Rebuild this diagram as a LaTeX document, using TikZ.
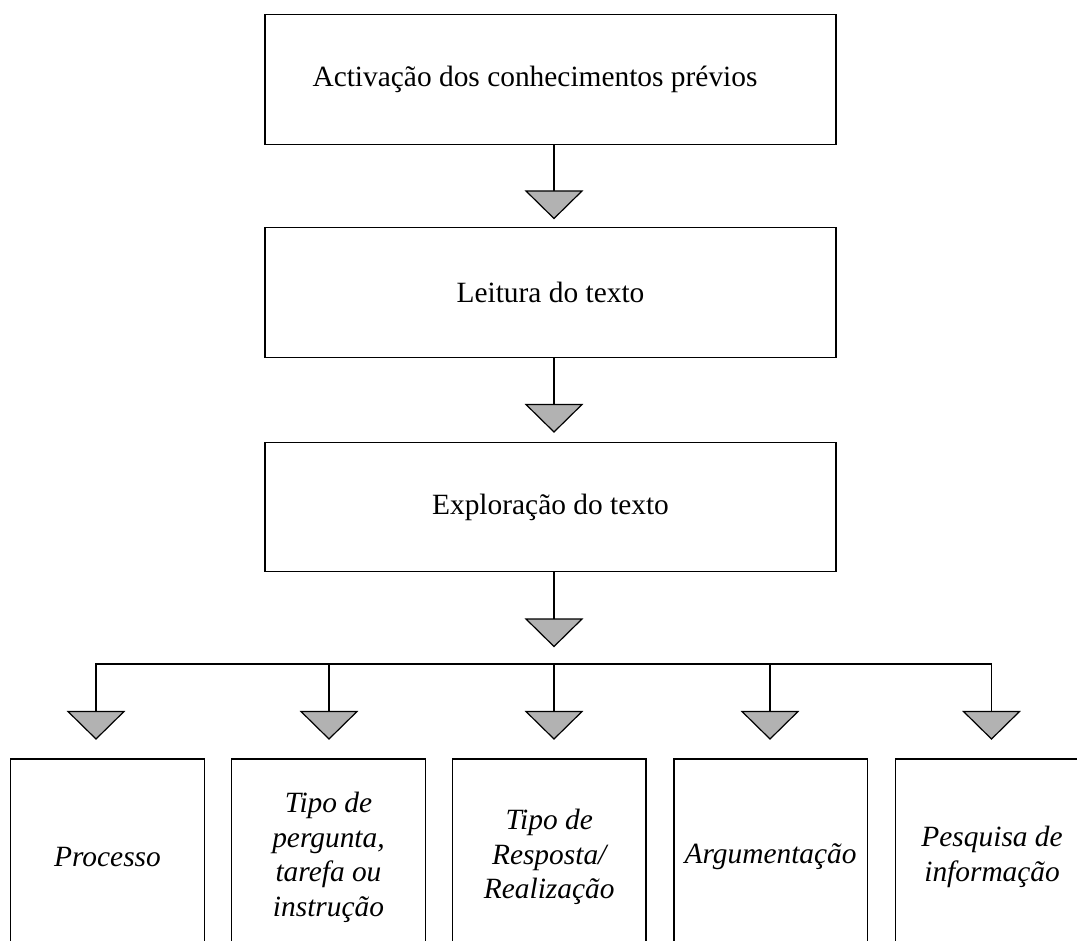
\documentclass[tikz,border=0pt]{standalone}
\usepackage{fontspec}
\setmainfont{Liberation Serif}
\usetikzlibrary{calc}
\definecolor{triGray}{RGB}{178,178,178}
\newcommand\downtri[1]{\draw[tri] ($(#1)+(-28,0)$) -- ($(#1)+(28,0)$) -- ($(#1)+(0,27.5)$) -- cycle;}
\begin{document}
\begin{tikzpicture}[x=1pt,y=-1pt,
  topbox/.style={draw=black, line width=1.4pt, minimum width=571pt, minimum height=129.5pt, inner sep=0pt, outer sep=0pt, font=\fontsize{29.4}{34}\selectfont},
  toptext/.style={inner sep=0pt, font=\fontsize{29.4}{34}\selectfont},
  botbox/.style={draw=black, line width=1.4pt, minimum width=193.6pt, minimum height=196.3pt, inner sep=0pt, outer sep=0pt, align=center, font=\fontsize{29.4}{34.5}\selectfont\itshape},
  wire/.style={draw=black, line width=1.2pt},
  tri/.style={draw=black, fill=triGray, line width=1.2pt, line join=miter},
]
\useasboundingbox (0,0) rectangle (1077,941);
\clip (0,0) rectangle (1077,941);
\fill[white] (0,0) rectangle (1077,941);

% top chain
\node[topbox] (b1) at (550.5,79.5) {};
\node[toptext] (t1) at (535,79.5) {Activação dos conhecimentos prévios};
\node[topbox] (b2) at (550.5,292.5) {Leitura do texto};
\node[topbox] (b3) at (550.5,507) {Exploração do texto};

\coordinate (a1) at (554,191);
\coordinate (a2) at (554,404.5);
\coordinate (a3) at (554,619);
\draw[wire] (b1.south -| a1) -- (a1);
\draw[wire] (b2.south -| a2) -- (a2);
\draw[wire] (b3.south -| a3) -- (a3);
\downtri{a1}
\downtri{a2}
\downtri{a3}

% bus
\coordinate (j1) at (96,664);
\coordinate (j2) at (329,664);
\coordinate (j3) at (554,664);
\coordinate (j4) at (770,664);
\coordinate (j5) at (991.5,664);
\coordinate (c1) at (96,711.5);
\coordinate (c2) at (329,711.5);
\coordinate (c3) at (554,711.5);
\coordinate (c4) at (770,711.5);
\coordinate (c5) at (991.5,711.5);
\draw[wire] (c1) -- (j1) -- (j5) -- (c5);
\draw[wire] (j2) -- (c2);
\draw[wire] (j3) -- (c3);
\draw[wire] (j4) -- (c4);
\downtri{c1}
\downtri{c2}
\downtri{c3}
\downtri{c4}
\downtri{c5}

% bottom boxes
\node[botbox] (p1) at (107.5,857.15) {Processo};
\node[botbox] (p2) at (328.5,857.15) {Tipo de\\pergunta,\\tarefa ou\\instrução};
\node[botbox] (p3) at (549.2,857.15) {Tipo de\\Resposta/\\Realização};
\node[botbox] (p4) at (770.6,857.15) {Argumentação};
\node[botbox] (p5) at (992.1,857.15) {Pesquisa de\\informação};
\end{tikzpicture}
\end{document}
